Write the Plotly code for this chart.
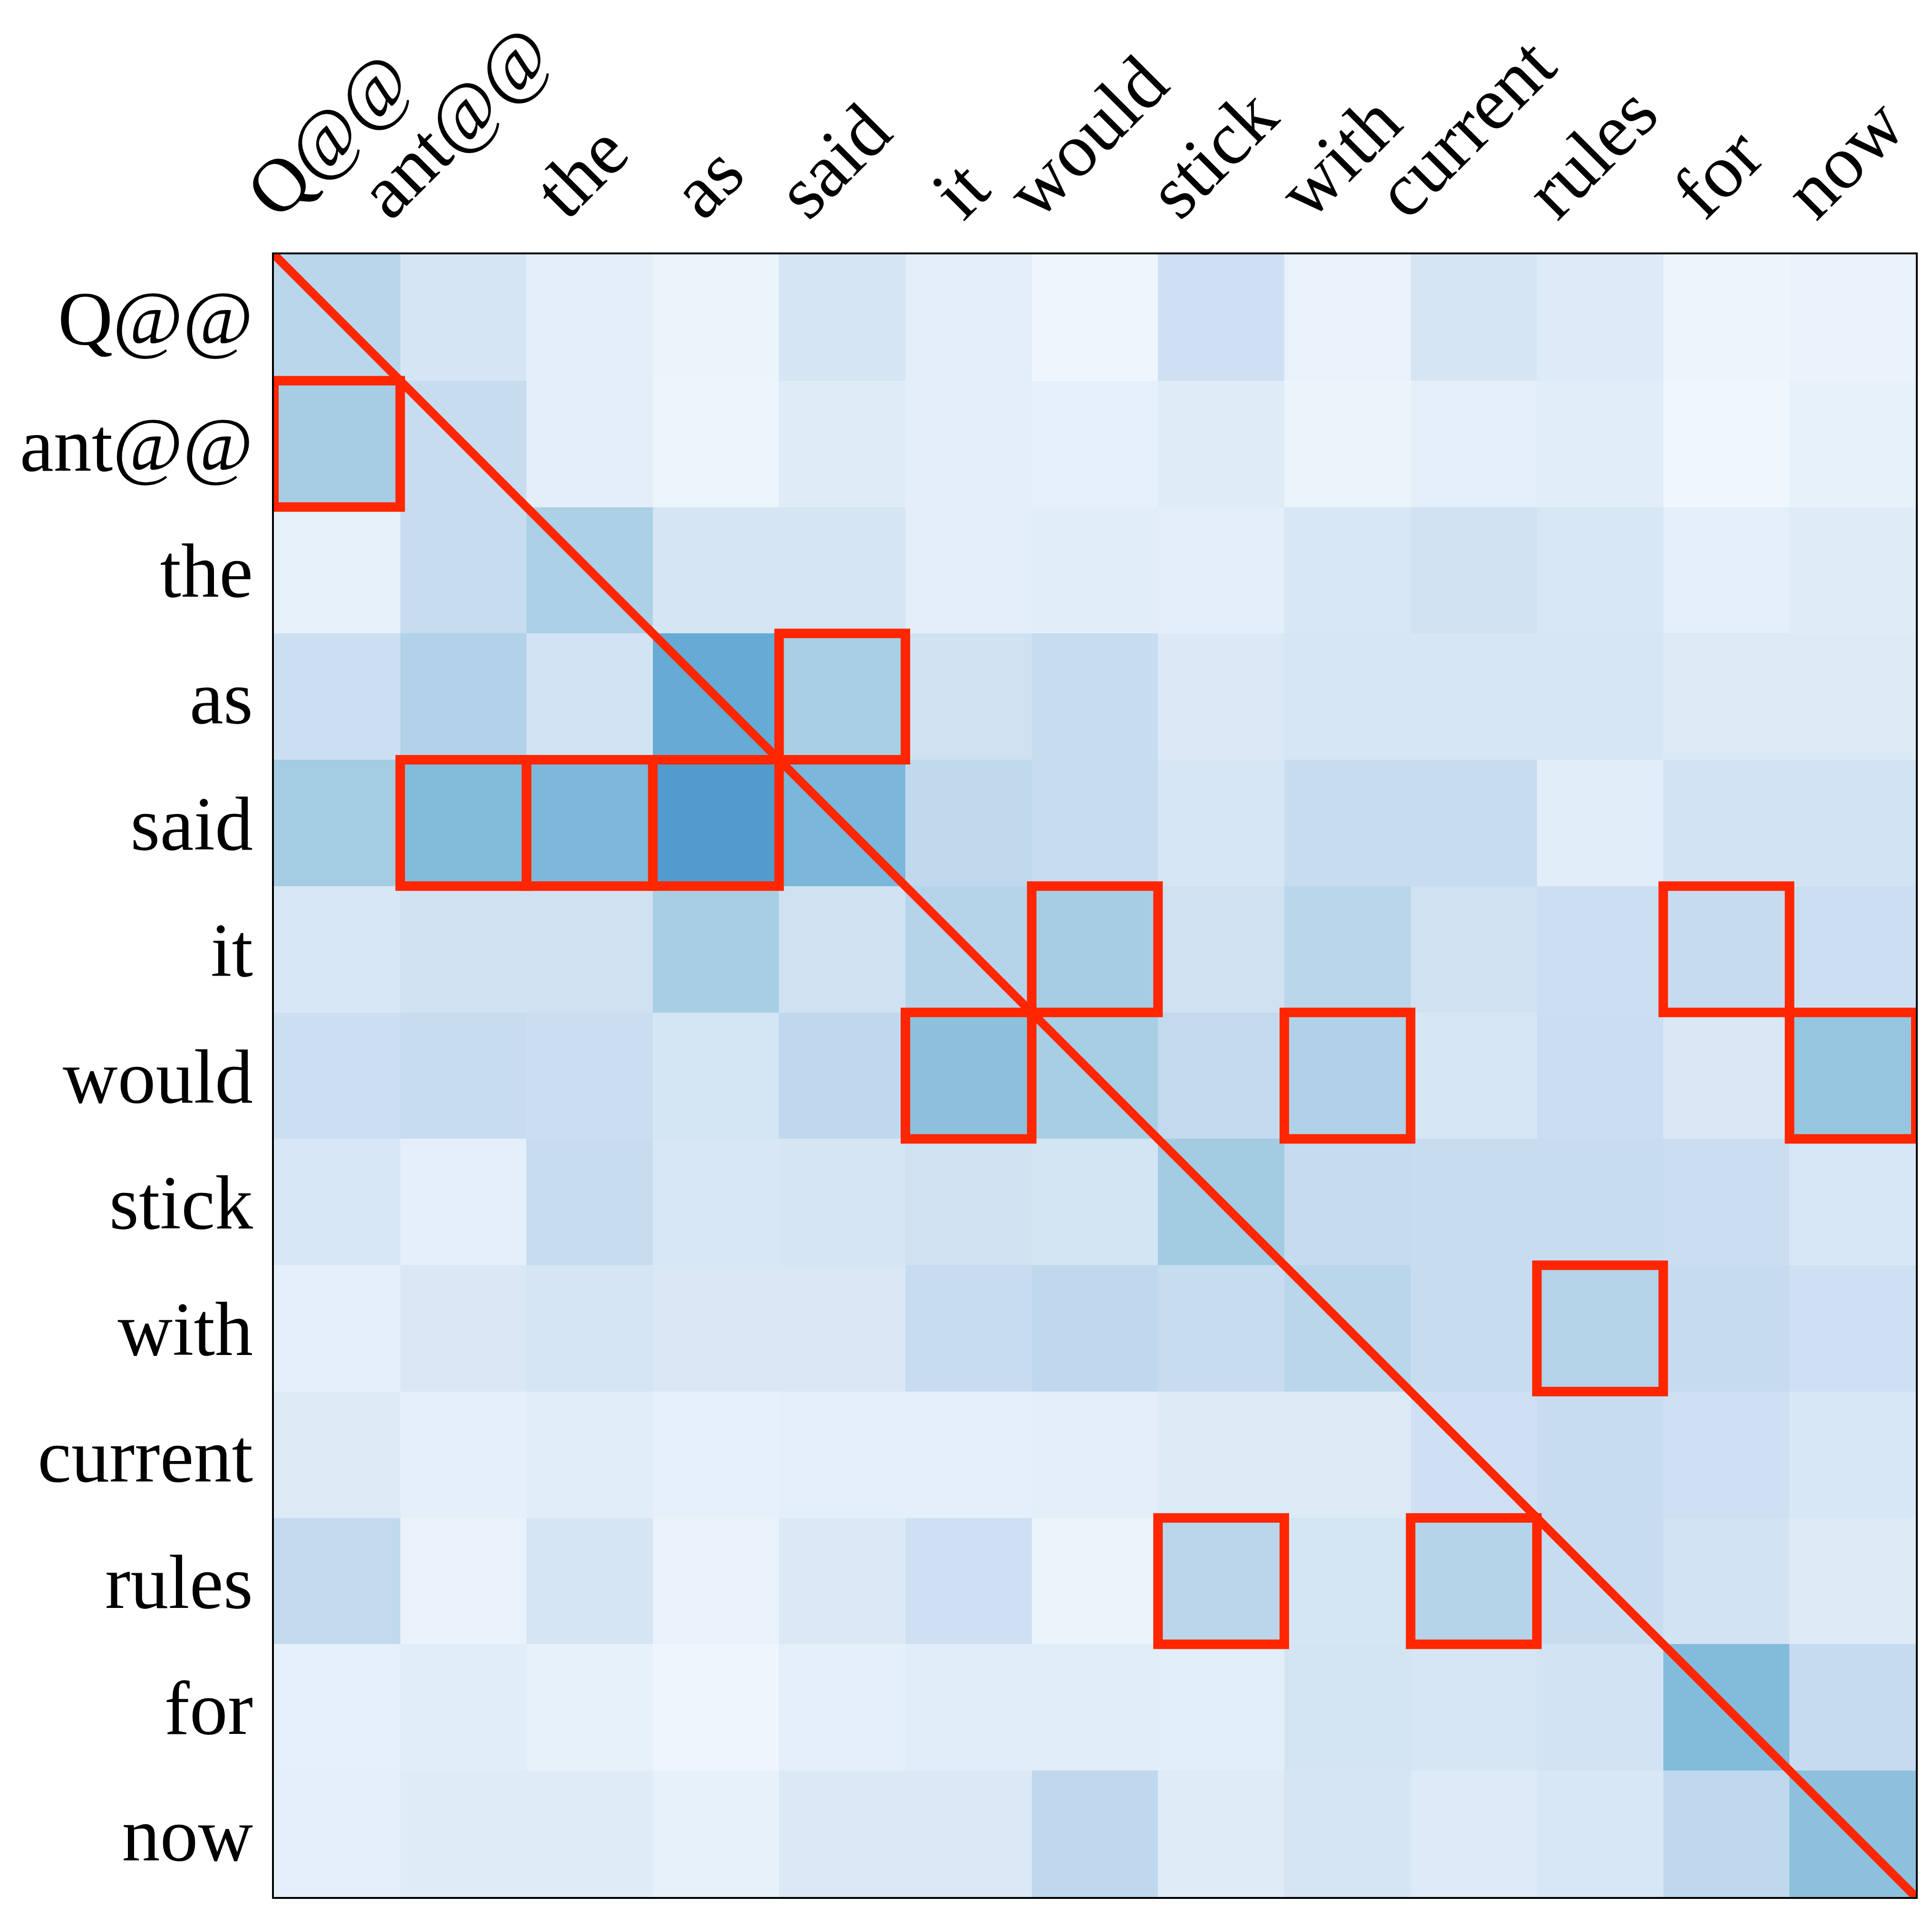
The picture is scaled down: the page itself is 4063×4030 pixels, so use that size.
import plotly.graph_objects as go

# ---- data -------------------------------------------------------------
tokens = ["Q@@", "ant@@", "the", "as", "said", "it", "would", "stick",
          "with", "current", "rules", "for", "now"]

# attention weights (rows = query token, cols = key token)
attention = [
    [0.29, 0.17, 0.10, 0.06, 0.17, 0.10, 0.045, 0.21, 0.07, 0.17, 0.13, 0.05, 0.065],
    [0.35, 0.245, 0.10, 0.05, 0.12, 0.10, 0.085, 0.12, 0.06, 0.09, 0.11, 0.04, 0.08],
    [0.08, 0.245, 0.33, 0.17, 0.17, 0.10, 0.11, 0.10, 0.16, 0.20, 0.16, 0.09, 0.12],
    [0.22, 0.315, 0.19, 0.515, 0.34, 0.20, 0.245, 0.14, 0.165, 0.165, 0.165, 0.135, 0.135],
    [0.355, 0.44, 0.455, 0.58, 0.46, 0.265, 0.245, 0.165, 0.24, 0.24, 0.11, 0.19, 0.19],
    [0.155, 0.20, 0.20, 0.345, 0.20, 0.30, 0.35, 0.20, 0.29, 0.20, 0.22, 0.25, 0.22],
    [0.22, 0.24, 0.225, 0.175, 0.27, 0.42, 0.345, 0.26, 0.32, 0.165, 0.225, 0.145, 0.395],
    [0.16, 0.09, 0.245, 0.16, 0.17, 0.20, 0.18, 0.36, 0.25, 0.24, 0.245, 0.225, 0.155],
    [0.09, 0.145, 0.17, 0.145, 0.145, 0.24, 0.27, 0.24, 0.29, 0.24, 0.31, 0.25, 0.21],
    [0.135, 0.09, 0.11, 0.085, 0.09, 0.09, 0.10, 0.135, 0.135, 0.21, 0.245, 0.21, 0.155],
    [0.26, 0.07, 0.17, 0.07, 0.14, 0.21, 0.06, 0.285, 0.175, 0.30, 0.24, 0.19, 0.125],
    [0.085, 0.11, 0.08, 0.045, 0.09, 0.11, 0.11, 0.105, 0.18, 0.165, 0.19, 0.44, 0.25],
    [0.09, 0.12, 0.12, 0.08, 0.14, 0.14, 0.27, 0.12, 0.17, 0.13, 0.155, 0.27, 0.42],
]

# highlighted (row token, column token) cells
highlight_cells = [
    ("ant@@", "Q@@"),
    ("as", "said"),
    ("said", "ant@@"), ("said", "the"), ("said", "as"),
    ("it", "would"), ("it", "for"),
    ("would", "it"), ("would", "with"), ("would", "now"),
    ("with", "rules"),
    ("rules", "stick"), ("rules", "current"),
]

# ---- style ------------------------------------------------------------
blues = [
    [0.0, "rgb(247,251,255)"], [0.125, "rgb(222,235,247)"],
    [0.25, "rgb(198,219,239)"], [0.375, "rgb(158,202,225)"],
    [0.5, "rgb(107,174,214)"], [0.625, "rgb(66,146,198)"],
    [0.75, "rgb(33,113,181)"], [0.875, "rgb(8,81,156)"],
    [1.0, "rgb(8,48,107)"],
]
RED = "rgb(255,38,0)"
FONT = dict(family="Liberation Serif, Times New Roman, serif", size=160, color="black")

n = len(tokens)
idx = list(range(n))

fig = go.Figure()
fig.add_trace(go.Heatmap(
    z=attention, x=idx, y=idx, colorscale=blues, zmin=0, zmax=1,
    showscale=False, hoverinfo="skip",
))

# diagonal line
fig.add_shape(type="line", xref="x", yref="y",
              x0=idx[0] - 0.5, y0=idx[0] - 0.5, x1=idx[-1] + 0.5, y1=idx[-1] + 0.5,
              line=dict(color=RED, width=18), layer="above")

# highlight boxes
for r_tok, c_tok in highlight_cells:
    r = tokens.index(r_tok)
    c = tokens.index(c_tok)
    fig.add_shape(type="rect", xref="x", yref="y",
                  x0=c - 0.5, x1=c + 0.5, y0=r - 0.5, y1=r + 0.5,
                  line=dict(color=RED, width=20), fillcolor="rgba(0,0,0,0)",
                  layer="above")

# rotated column labels on top
for i, t in enumerate(tokens):
    fig.add_annotation(x=i, xref="x", y=1, yref="paper", text=t,
                       textangle=-45, xanchor="center", yanchor="bottom",
                       xshift=-18, yshift=40, showarrow=False, font=FONT)

fig.update_xaxes(range=[-0.5, n - 0.5], showticklabels=False, ticks="",
                 showgrid=False, zeroline=False, showline=True, mirror=True,
                 linecolor="black", linewidth=4)
fig.update_yaxes(range=[n - 0.5, -0.5], tickmode="array", tickvals=idx,
                 ticktext=tokens, tickfont=FONT, ticks="", ticklabelstandoff=8,
                 showgrid=False, zeroline=False, showline=True, mirror=True,
                 linecolor="black", linewidth=4)

fig.update_layout(
    width=4063, height=4030,
    margin=dict(l=568, r=42, t=527, b=48, pad=0),
    paper_bgcolor="white", plot_bgcolor="white",
    font=FONT,
)

fig.write_html("out.html")
